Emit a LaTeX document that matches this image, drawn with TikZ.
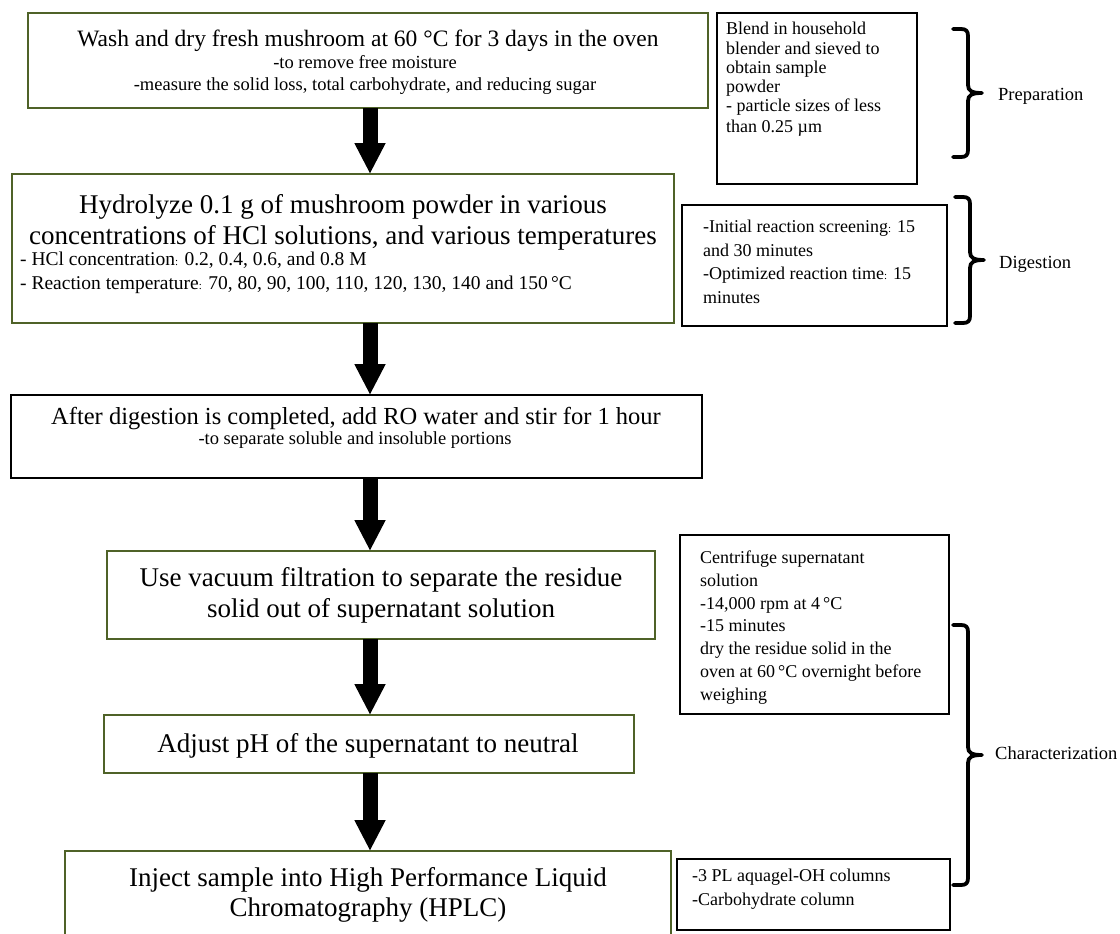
\documentclass[tikz,border=0pt]{standalone}
\usepackage{fontspec}
\setmainfont{Liberation Serif}
\usetikzlibrary{arrows.meta}
\definecolor{boxgreen}{RGB}{79,98,40}
\newcommand\smc{{\fontsize{11}{11}\selectfont:}}
% right-pointing square-ish curly brace: #1 = left x, #2 = top y, #3 = bottom y
\newcommand\mkbrace[3]{%
  \pgfmathsetmacro\bxa{#1}\pgfmathsetmacro\bxb{#1+15}\pgfmathsetmacro\bxt{#1+29}%
  \pgfmathsetmacro\bym{(#2+#3)/2}%
  \pgfmathsetmacro\byt{#2}\pgfmathsetmacro\byb{#3}%
  \draw[brc] (\bxa,\byt) -- (\bxb-7,\byt)
    .. controls (\bxb-2,\byt) and (\bxb,\byt+2) .. (\bxb,\byt+7)
    -- (\bxb,\bym-8)
    .. controls (\bxb,\bym-2) and (\bxb+4,\bym) .. (\bxt,\bym)
    .. controls (\bxb+4,\bym) and (\bxb,\bym+2) .. (\bxb,\bym+8)
    -- (\bxb,\byb-7)
    .. controls (\bxb,\byb-2) and (\bxb-2,\byb) .. (\bxb-7,\byb)
    -- (\bxa,\byb);}
\begin{document}
\begin{tikzpicture}[x=1pt,y=-1pt,
  gbox/.style={draw=boxgreen,line width=1.8pt,inner sep=0pt,outer sep=0pt,anchor=north west},
  kbox/.style={draw=black,line width=1.8pt,inner sep=0pt,outer sep=0pt,anchor=north west},
  big/.style={font=\fontsize{27}{31}\selectfont,inner sep=0pt,anchor=base},
  mid/.style={font=\fontsize{24.5}{28}\selectfont,inner sep=0pt,anchor=base},
  sub/.style={font=\fontsize{18.5}{21}\selectfont,inner sep=0pt,anchor=base},
  subl/.style={font=\fontsize{19.5}{22}\selectfont,inner sep=0pt,anchor=base west},
  side/.style={font=\fontsize{18}{20}\selectfont,inner sep=0pt,anchor=base west},
  lab/.style={font=\fontsize{18.5}{21}\selectfont,inner sep=0pt,anchor=base west},
  flow/.style={line width=15pt,-{Triangle[width=29pt,length=31pt]}},
  brc/.style={draw=black,line width=3.8pt,line cap=round,line join=round},
]
\useasboundingbox (0,0) rectangle (1120,934);
\fill[white] (0,0) rectangle (1120,934);
\clip (0,0) rectangle (1120,934);

% ---------- main flow boxes ----------
\node[gbox,minimum width=680pt,minimum height=95pt] (b1) at (28,13) {};
\node[gbox,minimum width=662pt,minimum height=149pt] (b2) at (12,174) {};
\node[kbox,minimum width=691pt,minimum height=83pt] (b3) at (11,395) {};
\node[gbox,minimum width=548pt,minimum height=88pt] (b4) at (107,551) {};
\node[gbox,minimum width=530pt,minimum height=58pt] (b5) at (104,715) {};
\node[gbox,minimum width=606pt,minimum height=110pt] (b6) at (65,851) {};

% ---------- side boxes ----------
\node[kbox,minimum width=200pt,minimum height=171pt] (s1) at (717,13) {};
\node[kbox,minimum width=265pt,minimum height=121pt] (s2) at (682,205) {};
\node[kbox,minimum width=269pt,minimum height=179pt] (s3) at (680,535) {};
\node[kbox,minimum width=273pt,minimum height=71pt] (s4) at (677,859) {};

% ---------- texts of main boxes ----------
\node[mid,font=\fontsize{23.5}{27}\selectfont] (t1a) at (368,47) {Wash and dry fresh mushroom at 60 °C for 3 days in the oven};
\node[sub] (t1b) at (365,69) {-to remove free moisture};
\node[sub] (t1c) at (365,91) {-measure the solid loss, total carbohydrate, and reducing sugar};

\node[big] (t2a) at (343,213) {Hydrolyze 0.1 g of mushroom powder in various};
\node[big] (t2b) at (343,244) {concentrations of HCl solutions, and various temperatures};
\node[subl] (t2c) at (20,265) {- HCl concentration\smc{} 0.2, 0.4, 0.6, and 0.8 M};
\node[subl] (t2d) at (20,289) {- Reaction temperature\smc{} 70, 80, 90, 100, 110, 120, 130, 140 and 150\,°C};

\node[mid] (t3a) at (356,424.5) {After digestion is completed, add RO water and stir for 1 hour};
\node[sub] (t3b) at (355,444) {-to separate soluble and insoluble portions};

\node[big] (t4a) at (381,586) {Use vacuum filtration to separate the residue};
\node[big] (t4b) at (381,617) {solid out of supernatant solution};

\node[big] (t5a) at (368,752) {Adjust pH of the supernatant to neutral};

\node[big] (t6a) at (368,886) {Inject sample into High Performance Liquid};
\node[big] (t6b) at (368,916) {Chromatography (HPLC)};

% ---------- texts of side boxes ----------
\node[side] (p1) at (726,34.5) {Blend in household};
\node[side] (p2) at (726,54.5) {blender and sieved to};
\node[side] (p3) at (726,73.5) {obtain sample};
\node[side] (p4) at (726,92.5) {powder};
\node[side] (p5) at (726,111.5) {- particle sizes of less};
\node[side] (p6) at (726,132.5) {than 0.25 µm};

\node[side] (d1) at (703,232.5) {-Initial reaction screening\smc{} 15};
\node[side] (d2) at (703,256) {and 30 minutes};
\node[side] (d3) at (703,279.5) {-Optimized reaction time\smc{} 15};
\node[side] (d4) at (703,303) {minutes};

\node[side] (c1) at (700,563.5) {Centrifuge supernatant};
\node[side] (c2) at (700,586.5) {solution};
\node[side] (c3) at (700,609.5) {-14,000 rpm at 4\,°C};
\node[side] (c4) at (700,631.5) {-15 minutes};
\node[side] (c5) at (700,654.5) {dry the residue solid in the};
\node[side] (c6) at (700,677.5) {oven at 60\,°C overnight before};
\node[side] (c7) at (700,700.5) {weighing};

\node[side] (h1) at (692,881.5) {-3 PL aquagel-OH columns};
\node[side] (h2) at (692,905.5) {-Carbohydrate column};

% ---------- flow arrows ----------
\coordinate (ax) at (370,0);
\draw[flow] (b1.south -| ax) -- (b2.north -| ax);
\draw[flow] (b2.south -| ax) -- (b3.north -| ax);
\draw[flow] (b3.south -| ax) -- (b4.north -| ax);
\draw[flow] (b4.south -| ax) -- (b5.north -| ax);
\draw[flow] (b5.south -| ax) -- (b6.north -| ax);

% ---------- braces and labels ----------
\mkbrace{953}{29}{157}
\node[lab] (lp) at (998,100.5) {Preparation};

\mkbrace{955}{197}{323}
\node[lab] (ld) at (999,268.5) {Digestion};

\mkbrace{953}{625}{885}
\node[lab] (lc) at (995,759.5) {Characterization};
\end{tikzpicture}
\end{document}
